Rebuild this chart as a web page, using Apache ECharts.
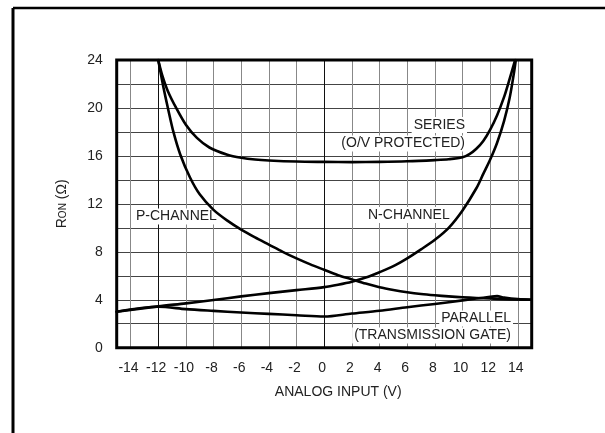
<!DOCTYPE html>
<html><head><meta charset="utf-8">
<script src="https://cdn.jsdelivr.net/npm/echarts@6/dist/echarts.min.js"></script>
<style>html,body{margin:0;padding:0;background:#fff}#c{width:605px;height:433px}</style>
</head><body><div id="c"></div>
<script>
const FONT = '"Liberation Sans Narrow","Arial Narrow","Liberation Sans",Arial,sans-serif';

// Axis ticks
const xTicks = [-14, -12, -10, -8, -6, -4, -2, 0, 2, 4, 6, 8, 10, 12, 14];
const yTicks = [0, 4, 8, 12, 16, 20, 24];

// Series (O/V protected) curve: [V, ohms]
const seriesProtected = [
  [-12, 24], [-11.7, 22.7], [-11.3, 21.4], [-10.7, 20], [-10, 18.6], [-9.2, 17.5],
  [-8.3, 16.7], [-7, 16.1], [-6, 15.85], [-5, 15.7], [-4, 15.62], [-2, 15.53],
  [0, 15.5], [2, 15.48], [4, 15.5], [6, 15.55], [8, 15.65], [9, 15.72], [10, 15.88],
  [10.5, 16.15], [11, 16.6], [11.5, 17.25], [12, 18.2], [12.5, 19.4], [13, 20.9],
  [13.4, 22.4], [13.8, 24]
];

// P-channel
const pChannel = [
  [-12, 24], [-11.8, 22.8], [-11.6, 21.6], [-11.3, 20], [-10.9, 18], [-10.4, 16.1],
  [-9.7, 14.2], [-9, 12.8], [-8, 11.5], [-7, 10.6], [-6, 9.85], [-5, 9.2], [-4, 8.6],
  [-3, 8.0], [-2, 7.45], [-1, 6.95], [0, 6.5], [1, 6.05], [2, 5.7], [3, 5.35],
  [4, 5.05], [5, 4.82], [6, 4.63], [7, 4.48], [8, 4.37], [9, 4.28], [10, 4.21],
  [11, 4.15], [12, 4.1], [13, 4.05], [14, 4.02], [15, 4.0]
];

// N-channel
const nChannel = [
  [-15, 3.0], [-12, 3.45], [-10, 3.7], [-8, 3.98], [-6, 4.28], [-4, 4.55], [-2, 4.8],
  [0, 5.05], [1, 5.25], [2, 5.5], [3, 5.85], [4, 6.3], [5, 6.8], [6, 7.45], [7, 8.2],
  [8, 9.0], [9, 10.0], [10, 11.45], [11, 13.3], [11.5, 14.5], [12, 15.7], [12.5, 17.1],
  [13, 18.9], [13.4, 20.8], [13.7, 22.8], [13.85, 24]
];

// Parallel (transmission gate)
const parallel = [
  [-15, 3.0], [-12, 3.42], [-10, 3.22], [-8, 3.07], [-6, 2.93], [-4, 2.82], [-2, 2.71],
  [0, 2.6], [2, 2.85], [4, 3.08], [6, 3.38], [8, 3.65], [10, 3.95], [11, 4.1],
  [12, 4.24], [12.5, 4.3], [13, 4.18], [14, 4.05], [15, 4.0]
];

// Vertical grid positions
const xGrid = [-14, -12, -10, -8, -6, -4, -2, 0, 2, 4, 6, 8, 10, 12, 14];
const darkGrid = [-12, 0];

// Curve annotations
const notes = [
  { text: 'SERIES', x: 467, y: 125, align: 'right' },
  { text: '(O/V PROTECTED)', x: 467, y: 143.5, align: 'right' },
  { text: 'P-CHANNEL', x: 134, y: 216.5, align: 'left' },
  { text: 'N-CHANNEL', x: 366, y: 215, align: 'left' },
  { text: 'PARALLEL', x: 513, y: 318.5, align: 'right' },
  { text: '(TRANSMISSION GATE)', x: 513, y: 335.5, align: 'right' }
];

const chart = echarts.init(document.getElementById('c'), null, { renderer: 'canvas' });
function curve(name, data) {
  return {
    name, type: 'line', data, showSymbol: false, symbol: 'none',
    smooth: 0.3, lineStyle: { color: '#000', width: 2.6, join: 'round', cap: 'round' }, z: 3, silent: true
  };
}
chart.setOption({
  animation: false,
  backgroundColor: '#fff',
  grid: { left: 116.7, top: 60, right: 73.3, bottom: 85.3, show: false },
  xAxis: {
    type: 'value', min: -15, max: 15,
    axisLine: { show: false }, axisTick: { show: false }, splitLine: { show: false },
    axisLabel: { customValues: xTicks, margin: 13, color: '#222', fontSize: 14, fontFamily: FONT, padding: [0, 4, 0, 0] },
    name: 'ANALOG INPUT (V)', nameLocation: 'middle', nameGap: 37,
    nameTextStyle: { color: '#222', fontSize: 14, fontFamily: FONT, padding: [0, 0, 0, 28] }
  },
  yAxis: {
    type: 'value', min: 0, max: 24, interval: 2,
    axisLine: { show: false }, axisTick: { show: false },
    splitLine: { show: true, lineStyle: { color: '#444', width: 1 } },
    axisLabel: { customValues: yTicks, margin: 14, color: '#222', fontSize: 14, fontFamily: FONT },
    name: 'R{s|ON} (Ω)', nameLocation: 'middle', nameGap: 48, nameRotate: 90,
    nameTextStyle: { color: '#222', fontSize: 14, fontFamily: FONT, rich: { s: { fontSize: 10, fontFamily: FONT, color: '#222', padding: [4, 0, 0, 0] } } }
  },
  series: [
    {
      type: 'line', data: [], silent: true, z: 1,
      markLine: {
        z: 1, silent: true, symbol: 'none', animation: false, label: { show: false },
        lineStyle: { color: '#888', width: 1, type: 'solid' },
        data: xGrid.map(v => ({ xAxis: v, lineStyle: { color: darkGrid.includes(v) ? '#111' : '#888', width: 1, type: 'solid' } }))
      }
    },
    curve('Series (O/V protected)', seriesProtected),
    curve('P-channel', pChannel),
    curve('N-channel', nChannel),
    curve('Parallel', parallel)
  ]
});

const tl = chart.convertToPixel({ gridIndex: 0 }, [-15, 24]);
const br = chart.convertToPixel({ gridIndex: 0 }, [15, 0]);
chart.setOption({
  graphic: [
    {
      type: 'rect', z: 20, silent: true,
      shape: { x: tl[0], y: tl[1], width: br[0] - tl[0], height: br[1] - tl[1] },
      style: { fill: null, stroke: '#000', lineWidth: 3 }
    },
    { type: 'line', z: 20, silent: true, shape: { x1: 13, y1: 8, x2: 605, y2: 8 }, style: { stroke: '#000', lineWidth: 2.5 } },
    { type: 'line', z: 20, silent: true, shape: { x1: 13, y1: 8, x2: 13, y2: 433 }, style: { stroke: '#000', lineWidth: 3 } }
  ].concat(notes.map(n => ({
    type: 'text', z: 2, silent: true, x: n.x, y: n.y,
    style: {
      text: n.text, fill: '#222', font: '14px ' + FONT, align: n.align, verticalAlign: 'middle',
      backgroundColor: '#fff', padding: [1, 2, 1, 2]
    }
  })))
});
</script>
</body></html>
